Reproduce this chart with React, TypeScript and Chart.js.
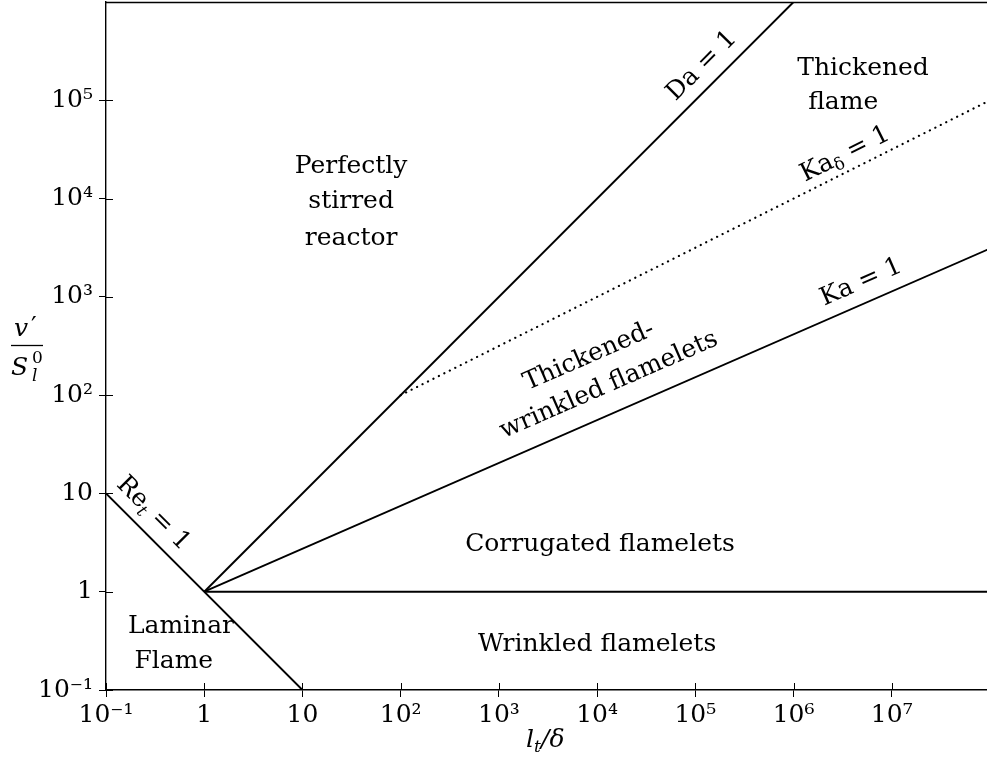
import React, { useEffect, useRef } from "react";
import { Chart, registerables } from "chart.js";

Chart.register(...registerables);

// ---- data ----
const X_TICKS = [0.1, 1, 10, 1e2, 1e3, 1e4, 1e5, 1e6, 1e7];
const X_TICK_LABELS = ["10⁻¹", "1", "10", "10²", "10³", "10⁴", "10⁵", "10⁶", "10⁷"];
const Y_TICKS = [0.1, 1, 10, 1e2, 1e3, 1e4, 1e5];
const Y_TICK_LABELS = ["10⁻¹", "1", "10", "10²", "10³", "10⁴", "10⁵"];

const RE_X = [0.1, 10];
const RE_Y = [10, 0.1];
const DA_X = [1, 1e6];
const DA_Y = [1, 1e6];
const KA_X = [1, 1e8];
const KA_Y = [1, 3100];
const KAD_X = [100, 1e8];
const KAD_Y = [100, 1e5];
const UNIT_X = [1, 1e8];
const UNIT_Y = [1, 1];

// region labels
const REGION_TEXT = ["Perfectly", "stirred", "reactor", "Thickened", "flame", "Corrugated flamelets", "Wrinkled flamelets", "Laminar", "Flame"];
const REGION_X = [31.3, 31.3, 31.3, 5.1e6, 3.2e6, 10700, 10000, 0.58, 0.49];
const REGION_Y = [18150, 8000, 3370, 180000, 81300, 2.6, 0.249, 0.38, 0.167];

const FONT = "'DejaVu Serif', serif";
const FS = 25;

const pts = (xs: number[], ys: number[]) => xs.map((x, i) => ({ x, y: ys[i] }));

type Part = { t: string; size?: number; italic?: boolean; dy?: number };

function partFont(p: Part) {
  return `${p.italic ? "italic " : ""}${p.size ?? FS}px ${FONT}`;
}

function drawRich(ctx: CanvasRenderingContext2D, parts: Part[], cx: number, cy: number, angle: number, centerV = true) {
  let w = 0;
  for (const p of parts) {
    ctx.font = partFont(p);
    w += ctx.measureText(p.t).width;
  }
  ctx.save();
  ctx.translate(cx, cy);
  ctx.rotate(angle);
  ctx.textAlign = "left";
  ctx.textBaseline = "alphabetic";
  let x = -w / 2;
  const base = centerV ? FS * 0.36 : 0;
  for (const p of parts) {
    ctx.font = partFont(p);
    ctx.fillText(p.t, x, base + (p.dy ?? 0));
    x += ctx.measureText(p.t).width;
  }
  ctx.restore();
}

const overlay = {
  id: "overlay",
  afterDraw(chart: any) {
    const { ctx, chartArea } = chart;
    const xs = chart.scales.x;
    const ys = chart.scales.y;
    const px = (v: number) => xs.getPixelForValue(v);
    const py = (v: number) => ys.getPixelForValue(v);
    const ang = (X: number[], Y: number[]) => Math.atan2(py(Y[1]) - py(Y[0]), px(X[1]) - px(X[0]));
    ctx.save();
    ctx.strokeStyle = "#000";
    ctx.fillStyle = "#000";
    ctx.lineWidth = 1.4;
    ctx.beginPath();
    ctx.moveTo(chartArea.left, chartArea.top + 0.5);
    ctx.lineTo(chartArea.right, chartArea.top + 0.5);
    ctx.stroke();
    ctx.lineWidth = 1;
    for (const v of X_TICKS) {
      const p = Math.round(px(v)) + 0.5;
      ctx.beginPath();
      ctx.moveTo(p, chartArea.bottom);
      ctx.lineTo(p, chartArea.bottom - 7);
      ctx.stroke();
    }
    for (const v of Y_TICKS) {
      const p = Math.round(py(v)) + 0.5;
      ctx.beginPath();
      ctx.moveTo(chartArea.left, p);
      ctx.lineTo(chartArea.left + 7, p);
      ctx.stroke();
    }
    // region labels
    ctx.textAlign = "center";
    ctx.textBaseline = "alphabetic";
    ctx.font = `${FS}px ${FONT}`;
    REGION_TEXT.forEach((t, i) => {
      ctx.fillText(t, px(REGION_X[i]), py(REGION_Y[i]));
    });
    // line labels
    drawRich(ctx, [{ t: "Re" }, { t: "t", size: 17, italic: true, dy: 5 }, { t: " = 1" }], px(0.315), py(6.5), ang(RE_X, RE_Y));
    drawRich(ctx, [{ t: "Da = 1" }], px(1.12e5), py(2.33e5), ang(DA_X, DA_Y));
    drawRich(ctx, [{ t: "Ka" }, { t: "δ", size: 17, dy: 5 }, { t: " = 1" }], px(3.27e6), py(29700), ang(KAD_X, KAD_Y));
    drawRich(ctx, [{ t: "Ka = 1" }], px(4.76e6), py(1480), ang(KA_X, KA_Y));
    drawRich(ctx, [{ t: "Thickened-" }], px(8090), py(262), ang(KA_X, KA_Y));
    drawRich(ctx, [{ t: "wrinkled flamelets" }], px(12900), py(133), ang(KA_X, KA_Y));
    // x title
    ctx.textAlign = "left";
    ctx.font = `italic ${FS}px ${FONT}`;
    ctx.fillText("l", 526, 747);
    ctx.font = `italic 17px ${FONT}`;
    ctx.fillText("t", 534, 752);
    ctx.font = `italic ${FS}px ${FONT}`;
    ctx.fillText("/δ", 541, 747);
    // y title
    ctx.textAlign = "left";
    ctx.font = `italic ${FS}px ${FONT}`;
    ctx.fillText("v", 14, 336);
    ctx.font = `${FS}px ${FONT}`;
    ctx.fillText("′", 31, 334);
    ctx.lineWidth = 1.3;
    ctx.beginPath();
    ctx.moveTo(11, 345.5);
    ctx.lineTo(43, 345.5);
    ctx.stroke();
    ctx.font = `italic ${FS}px ${FONT}`;
    ctx.fillText("S", 11, 375);
    ctx.font = `17px ${FONT}`;
    ctx.fillText("0", 32, 363);
    ctx.font = `italic 17px ${FONT}`;
    ctx.fillText("l", 32, 381);
    ctx.restore();
  },
};

export default function App() {
  const ref = useRef<HTMLCanvasElement>(null);
  useEffect(() => {
    if (!ref.current) return;
    const line = (xs: number[], ys: number[], dash?: number[]) => ({
      data: pts(xs, ys),
      borderColor: "#000",
      borderWidth: dash ? 2.2 : 1.9,
      borderDash: dash ?? [],
      borderCapStyle: dash ? ("round" as const) : ("butt" as const),
      pointRadius: 0,
      showLine: true,
      fill: false,
    });
    const chart = new Chart(ref.current, {
      type: "line",
      data: {
        datasets: [
          line(RE_X, RE_Y),
          line(DA_X, DA_Y),
          line(KA_X, KA_Y),
          line(KAD_X, KAD_Y, [0.1, 6]),
          line(UNIT_X, UNIT_Y),
        ],
      },
      options: {
        responsive: false,
        animation: false,
        events: [],
        layout: { padding: { left: 0, top: 2, right: 5, bottom: 0 } },
        plugins: { legend: { display: false }, tooltip: { enabled: false }, title: { display: false } },
        scales: {
          x: {
            type: "logarithmic",
            min: 0.1,
            max: 1e8,
            afterBuildTicks: (s: any) => {
              s.ticks = X_TICKS.map((v) => ({ value: v }));
            },
            afterFit: (s: any) => {
              s.height = 67;
              s.paddingLeft = 0;
              s.paddingRight = 0;
            },
            ticks: {
              autoSkip: false,
              maxRotation: 0,
              padding: 3,
              color: "#000",
              font: { family: FONT, size: 25 },
              callback: (v: any) => X_TICK_LABELS[X_TICKS.indexOf(Number(v))] ?? "",
            },
            grid: { drawOnChartArea: false, tickLength: 7, color: "#000", tickColor: "#000" },
            border: { display: true, color: "#000", width: 1.4 },
          },
          y: {
            type: "logarithmic",
            min: 0.1,
            max: 1e6,
            afterBuildTicks: (s: any) => {
              s.ticks = Y_TICKS.map((v) => ({ value: v }));
            },
            afterFit: (s: any) => {
              s.width = 106;
              s.paddingTop = 0;
              s.paddingBottom = 0;
            },
            ticks: {
              autoSkip: false,
              padding: 6,
              color: "#000",
              font: { family: FONT, size: 25 },
              callback: (v: any) => Y_TICK_LABELS[Y_TICKS.indexOf(Number(v))] ?? "",
            },
            grid: { drawOnChartArea: false, tickLength: 7, color: "#000", tickColor: "#000" },
            border: { display: true, color: "#000", width: 1.4 },
          },
        },
      },
      plugins: [overlay],
    });
    return () => chart.destroy();
  }, []);
  return (
    <div style={{ position: "fixed", left: 0, top: 0, width: 987, height: 757, overflow: "hidden", background: "#fff" }}>
      <canvas ref={ref} width={995} height={757} style={{ display: "block" }} />
    </div>
  );
}
